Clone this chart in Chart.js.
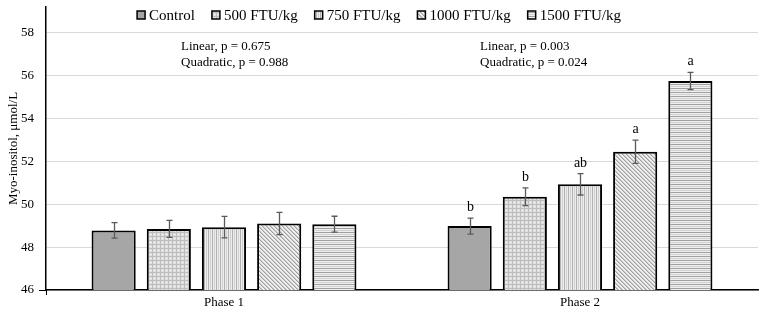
<!DOCTYPE html>
<html>
<head>
<meta charset="utf-8">
<script src="https://cdn.jsdelivr.net/npm/chart.js@4/dist/chart.umd.min.js"></script>
<style>
html,body{margin:0;padding:0;background:#fff;}
#wrap{width:765px;height:315px;position:relative;}
</style>
</head>
<body>
<div id="wrap"><canvas id="c" width="765" height="315"></canvas></div>
<script>
const categories = ['Phase 1', 'Phase 2'];
const seriesNames = ['Control', '500 FTU/kg', '750 FTU/kg', '1000 FTU/kg', '1500 FTU/kg'];
const controlValues = [48.78, 48.98];
const ftu500Values = [48.85, 50.35];
const ftu750Values = [48.93, 50.93];
const ftu1000Values = [49.10, 52.45];
const ftu1500Values = [49.07, 55.75];
const controlErr = [0.36, 0.37];
const ftu500Err = [0.40, 0.41];
const ftu750Err = [0.50, 0.50];
const ftu1000Err = [0.52, 0.54];
const ftu1500Err = [0.37, 0.40];
const controlLetters = ['', 'b'];
const ftu500Letters = ['', 'b'];
const ftu750Letters = ['', 'ab'];
const ftu1000Letters = ['', 'a'];
const ftu1500Letters = ['', 'a'];
const yTickValues = [46, 48, 50, 52, 54, 56, 58];
const statTexts = [
  ['Linear, p = 0.675', 'Quadratic, p = 0.988'],
  ['Linear, p = 0.003', 'Quadratic, p = 0.024']
];
const yTitle = 'Myo-inositol, \u03bcmol/L';

const FONT = '"Liberation Serif", "Times New Roman", serif';

function makePattern(kind) {
  const cv = document.createElement('canvas');
  const ctx = cv.getContext('2d');
  if (kind === 'solid') {
    return '#a6a6a6';
  }
  if (kind === 'grid') {
    cv.width = 4; cv.height = 4;
    ctx.fillStyle = '#e0e0e0'; ctx.fillRect(0, 0, 4, 4);
    ctx.fillStyle = '#bdbdbd';
    ctx.fillRect(0, 0, 4, 1);
    ctx.fillRect(0, 0, 1, 4);
    ctx.fillStyle = '#f4f4f4';
    ctx.fillRect(2, 2, 1, 1);
  } else if (kind === 'vert') {
    cv.width = 4; cv.height = 4;
    ctx.fillStyle = '#eeeeee'; ctx.fillRect(0, 0, 4, 4);
    ctx.fillStyle = '#b0b0b0'; ctx.fillRect(0, 0, 1, 4);
    ctx.fillStyle = '#cfcfcf'; ctx.fillRect(2, 0, 1, 4);
  } else if (kind === 'diag') {
    cv.width = 4; cv.height = 4;
    ctx.fillStyle = '#efefef'; ctx.fillRect(0, 0, 4, 4);
    ctx.fillStyle = '#a0a0a0';
    for (let i = 0; i < 4; i++) ctx.fillRect(i, i, 1, 1);
    ctx.fillStyle = '#cacaca';
    for (let i = 0; i < 4; i++) ctx.fillRect((i + 1) % 4, i, 1, 1);
  } else if (kind === 'horiz') {
    cv.width = 4; cv.height = 4;
    ctx.fillStyle = '#f0f0f0'; ctx.fillRect(0, 0, 4, 4);
    ctx.fillStyle = '#a0a0a0'; ctx.fillRect(0, 0, 4, 1);
    ctx.fillStyle = '#d0d0d0'; ctx.fillRect(0, 2, 4, 1);
  }
  const tmp = document.createElement('canvas').getContext('2d');
  return tmp.createPattern(cv, 'repeat');
}

const fills = [makePattern('solid'), makePattern('grid'), makePattern('vert'), makePattern('diag'), makePattern('horiz')];
const valueSets = [controlValues, ftu500Values, ftu750Values, ftu1000Values, ftu1500Values];
const errSets = [controlErr, ftu500Err, ftu750Err, ftu1000Err, ftu1500Err];
const letterSets = [controlLetters, ftu500Letters, ftu750Letters, ftu1000Letters, ftu1500Letters];

const datasets = seriesNames.map((name, i) => ({
  label: name,
  data: valueSets[i],
  backgroundColor: fills[i],
  borderColor: '#000',
  borderWidth: 2,
  borderSkipped: 'bottom',
  categoryPercentage: 0.775,
  barPercentage: 0.80
}));

const overlay = {
  id: 'overlay',
  afterDatasetsDraw(chart) {
    const ctx = chart.ctx;
    const y = chart.scales.y;
    const area = chart.chartArea;
    ctx.save();
    chart.data.datasets.forEach((ds, di) => {
      const meta = chart.getDatasetMeta(di);
      meta.data.forEach((bar, j) => {
        const v = ds.data[j];
        const e = errSets[di][j];
        const x = Math.round(bar.x) + 0.5;
        const yt = y.getPixelForValue(v + e);
        const yb = y.getPixelForValue(v - e);
        ctx.strokeStyle = '#5a5a5a';
        ctx.lineWidth = 1.3;
        ctx.beginPath();
        ctx.moveTo(x, yt); ctx.lineTo(x, yb);
        ctx.moveTo(x - 3, yt); ctx.lineTo(x + 3, yt);
        ctx.moveTo(x - 3, yb); ctx.lineTo(x + 3, yb);
        ctx.stroke();
        const L = letterSets[di][j];
        if (L) {
          ctx.fillStyle = '#000';
          ctx.font = '14px ' + FONT;
          ctx.textAlign = 'center';
          ctx.textBaseline = 'alphabetic';
          ctx.fillText(L, x, yt - 7);
        }
      });
    });
    ctx.fillStyle = '#000';
    ctx.font = '13px ' + FONT;
    ctx.textAlign = 'left';
    ctx.textBaseline = 'middle';
    const statX = [181, 480];
    statTexts.forEach((lines, k) => {
      lines.forEach((t, li) => ctx.fillText(t, statX[k], 47 + li * 16));
    });
    ctx.strokeStyle = '#000';
    ctx.lineWidth = 1;
    ctx.beginPath();
    ctx.moveTo(area.left - 7, area.bottom + 0.5); ctx.lineTo(area.left, area.bottom + 0.5);
    ctx.moveTo(area.left + 0.5, area.bottom); ctx.lineTo(area.left + 0.5, area.bottom + 5);
    ctx.stroke();
    ctx.font = '15px ' + FONT;
    ctx.textBaseline = 'middle';
    const box = 8, gapBT = 4, gapItem = 17;
    const widths = seriesNames.map(n => box + gapBT + ctx.measureText(n).width);
    const total = widths.reduce((a, b) => a + b, 0) + gapItem * (seriesNames.length - 1);
    let lx = 379 - total / 2;
    const ly = 15;
    seriesNames.forEach((n, i) => {
      ctx.fillStyle = fills[i];
      ctx.fillRect(lx, ly - box / 2, box, box);
      ctx.strokeStyle = '#000';
      ctx.lineWidth = 1.5;
      ctx.strokeRect(lx, ly - box / 2, box, box);
      ctx.fillStyle = '#000';
      ctx.textAlign = 'left';
      ctx.fillText(n, lx + box + gapBT, ly + 1);
      lx += widths[i] + gapItem;
    });
    ctx.restore();
  }
};

new Chart(document.getElementById('c'), {
  type: 'bar',
  data: { labels: categories, datasets },
  options: {
    responsive: false,
    animation: false,
    layout: { padding: { top: 7, right: 7, left: 0, bottom: 0 } },
    plugins: { legend: { display: false }, tooltip: { enabled: false } },
    scales: {
      x: {
        grid: { display: false, drawTicks: false },
        border: { color: '#000', width: 1.5 },
        ticks: { color: '#000', font: { family: FONT, size: 13 }, padding: 5 },
        afterFit(s) { s.height = 25; s.paddingLeft = 0; s.paddingRight = 0; }
      },
      y: {
        min: 46,
        max: 59.2,
        afterBuildTicks(s) { s.ticks = yTickValues.map(v => ({ value: v })); },
        grid: { color: '#d9d9d9', lineWidth: 1, drawTicks: false },
        border: { color: '#000', width: 1.5 },
        ticks: { color: '#000', font: { family: FONT, size: 13 }, padding: 12 },
        title: { display: true, text: yTitle, color: '#000', font: { family: FONT, size: 13 }, padding: { top: 6, bottom: 0 } },
        afterFit(s) { s.width = 46; s.paddingTop = 0; s.paddingBottom = 0; }
      }
    }
  },
  plugins: [overlay]
});
</script>
</body>
</html>
